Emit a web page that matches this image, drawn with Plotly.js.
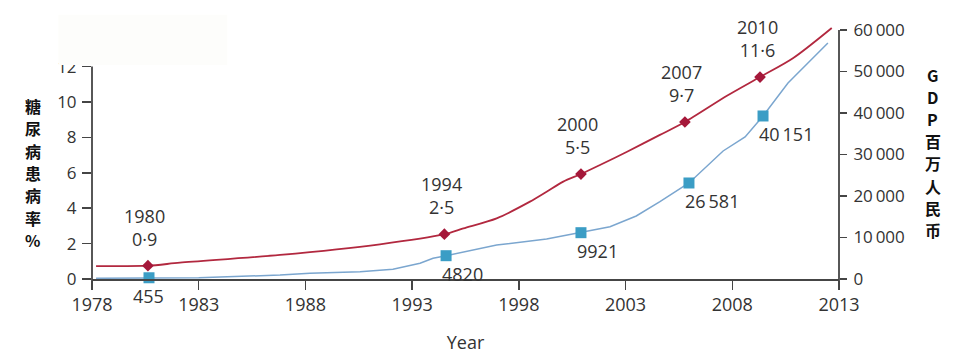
<!DOCTYPE html>
<html>
<head>
<meta charset="utf-8">
<script src="https://cdn.plot.ly/plotly-3.0.1.min.js"></script>
<style>
  html, body { margin: 0; padding: 0; background: #ffffff; }
  #chart { width: 960px; height: 354px; }
</style>
</head>
<body>
<div id="chart"></div>
<script>
// ---- data ----
// point labels
const yearLabels = ["1980", "1994", "2000", "2007", "2010"];
const prevalenceLabels = ["0\u00b79", "2\u00b75", "5\u00b75", "9\u00b77", "11\u00b76"];
const gdpLabels = ["455", "4820", "9921", "26\u2009581", "40\u2009151"];

// diabetes prevalence (%) – marked points, as drawn
const prevMarkX = [1980.62, 1994.51, 2000.91, 2005.78, 2009.30];
const prevMarkY = [0.75, 2.53, 5.93, 8.87, 11.41];
// diabetes prevalence (%) – curve, as drawn
const prevCurveX = [1978.19, 1980.62, 1982.12, 1986.81, 1991.49, 1994.51, 1995.40, 1996.96, 1998.52, 1999.30, 2000.08, 2000.91, 2001.80, 2003.07, 2004.61, 2005.78, 2007.75, 2009.30, 2010.84, 2012.66];
const prevCurveY = [0.73, 0.75, 0.92, 1.36, 1.96, 2.53, 2.86, 3.43, 4.37, 4.93, 5.50, 5.93, 6.44, 7.19, 8.14, 8.87, 10.35, 11.41, 12.47, 14.18];

// GDP (million RMB) – marked points, as drawn
const gdpMarkX = [1980.67, 1994.59, 2000.91, 2005.97, 2009.44];
const gdpMarkY = [300, 5615, 11158, 23136, 39283];
// GDP (million RMB) – curve, as drawn
const gdpCurveX = [1978.19, 1980.67, 1983.00, 1986.81, 1988.21, 1990.56, 1992.10, 1993.37, 1993.98, 1994.59, 1996.18, 1996.96, 1999.30, 2000.91, 2002.27, 2003.50, 2004.61, 2005.97, 2007.57, 2008.60, 2009.44, 2010.61, 2012.48];
const gdpCurveY = [170, 300, 290, 964, 1374, 1759, 2338, 3784, 4989, 5615, 7399, 8194, 9640, 11158, 12604, 15183, 18627, 23136, 30848, 34222, 39283, 47236, 56876];

// axis ticks
const xTickVals = [1978, 1983, 1988, 1993, 1998, 2003, 2008, 2013];
const leftTickVals = [0, 2, 4, 6, 8, 10, 12];
const rightTickVals = [0, 10000, 20000, 30000, 40000, 50000, 60000];
const rightTickText = ["0", "10\u2009000", "20\u2009000", "30\u2009000", "40\u2009000", "50\u2009000", "60\u2009000"];

// axis titles (written vertically, one character per line)
const leftTitleChars = ["糖", "尿", "病", "患", "病", "率", "%"];
const rightTitleChars = ["G", "D", "P", "百", "万", "人", "民", "币"];

// ---- styling ----
const RED_LINE = "#b2283f";
const RED_MARK = "#a5183a";
const BLUE_LINE = "#7ba6cf";
const BLUE_MARK = "#3b9dc5";
const AXIS = "#454545";
const TEXT = "#333333";
const FONT = "Open Sans, Noto Sans, sans-serif";
const CJK = "Noto Sans CJK SC, sans-serif";

const leftTop = 14.35;
const rightTop = 61205;
const plotH = 254;

const traces = [
  { x: prevCurveX, y: prevCurveY, type: "scatter", mode: "lines",
    line: { color: RED_LINE, width: 1.8, shape: "spline", smoothing: 0.8 },
    hoverinfo: "skip", yaxis: "y", cliponaxis: false },
  { x: gdpCurveX, y: gdpCurveY, type: "scatter", mode: "lines",
    line: { color: BLUE_LINE, width: 1.5, shape: "linear" },
    hoverinfo: "skip", yaxis: "y2", cliponaxis: false },
  { x: prevMarkX, y: prevMarkY, type: "scatter", mode: "markers",
    marker: { symbol: "diamond", size: 9, color: RED_MARK },
    yaxis: "y", cliponaxis: false },
  { x: gdpMarkX, y: gdpMarkY, type: "scatter", mode: "markers",
    marker: { symbol: "square", size: 11, color: BLUE_MARK },
    yaxis: "y2", cliponaxis: false }
];

const annotations = [];
for (let i = 0; i < yearLabels.length; i++) {
  annotations.push({
    x: prevMarkX[i], y: prevMarkY[i], xref: "x", yref: "y",
    text: yearLabels[i] + "<br>" + prevalenceLabels[i],
    showarrow: false, xanchor: "center", yanchor: "bottom",
    xshift: -3, yshift: 13,
    font: { family: FONT, size: 18, color: TEXT }
  });
}
for (let i = 0; i < gdpLabels.length; i++) {
  annotations.push({
    x: gdpMarkX[i], y: gdpMarkY[i], xref: "x", yref: "y2",
    text: gdpLabels[i],
    showarrow: false,
    xanchor: i === 0 ? "center" : "left",
    xshift: i === 0 ? 0 : -6,
    yanchor: "top", yshift: -4,
    font: { family: FONT, size: 18, color: TEXT }
  });
}
// vertical axis titles: one character per line, 22 px apart
leftTitleChars.forEach((ch, i) => {
  annotations.push({
    x: -0.0794, y: (279 - (106 + i * 22.3)) / plotH, xref: "paper", yref: "paper",
    text: ch, showarrow: false, xanchor: "center", yanchor: "middle", borderpad: 0,
    font: { family: CJK, size: 16, color: "#111111", weight: "bold" }
  });
});
rightTitleChars.forEach((ch, i) => {
  annotations.push({
    x: 1.1258, y: (279 - (75 + i * 22.1)) / plotH, xref: "paper", yref: "paper",
    text: ch, showarrow: false, xanchor: "center", yanchor: "middle", borderpad: 0,
    font: { family: CJK, size: 16, color: "#111111", weight: "bold" }
  });
});

const shapes = [
  // left axis line (stops at 12, runs a little below the x axis)
  { type: "line", xref: "paper", yref: "paper", x0: 0, x1: 0,
    y0: -9 / plotH, y1: 12 / leftTop, line: { color: AXIS, width: 1.8 } },
  // right axis line
  { type: "line", xref: "paper", yref: "paper", x0: 1, x1: 1,
    y0: -11 / plotH, y1: 60000 / rightTop, line: { color: AXIS, width: 1.8 } },
  // faint white patch over the top-left corner
  { type: "rect", xref: "paper", yref: "paper", layer: "above",
    x0: -0.045, x1: 0.181, y0: 0.8425, y1: 1.04,
    fillcolor: "#fdfdfb", line: { width: 0 } }
];

const layout = {
  width: 960, height: 354,
  margin: { l: 92, r: 121, t: 25, b: 75, pad: 0 },
  paper_bgcolor: "#ffffff", plot_bgcolor: "#ffffff",
  showlegend: false,
  font: { family: FONT, color: TEXT },
  xaxis: {
    range: [1978, 2013], tickvals: xTickVals,
    ticks: "outside", ticklen: 9, tickwidth: 1.5, tickcolor: AXIS,
    showline: true, linecolor: AXIS, linewidth: 1.8,
    showgrid: false, zeroline: false,
    tickfont: { family: FONT, size: 18, color: TEXT },
    title: { text: "Year", font: { family: FONT, size: 18, color: TEXT }, standoff: 22 }
  },
  yaxis: {
    range: [0, leftTop], tickvals: leftTickVals,
    ticks: "outside", ticklen: 9, tickwidth: 1.5, tickcolor: AXIS,
    showline: false, showgrid: false, zeroline: false,
    tickfont: { family: FONT, size: 17, color: TEXT },
    ticklabelstandoff: 2
  },
  yaxis2: {
    range: [0, rightTop], tickvals: rightTickVals, ticktext: rightTickText,
    overlaying: "y", side: "right",
    ticks: "outside", ticklen: 7, tickwidth: 1.5, tickcolor: AXIS,
    showline: false, showgrid: false, zeroline: false,
    tickfont: { family: FONT, size: 17, color: TEXT },
    ticklabelstandoff: 3
  },
  annotations: annotations,
  shapes: shapes
};

Plotly.newPlot("chart", traces, layout, { staticPlot: true, displayModeBar: false });
</script>
</body>
</html>
